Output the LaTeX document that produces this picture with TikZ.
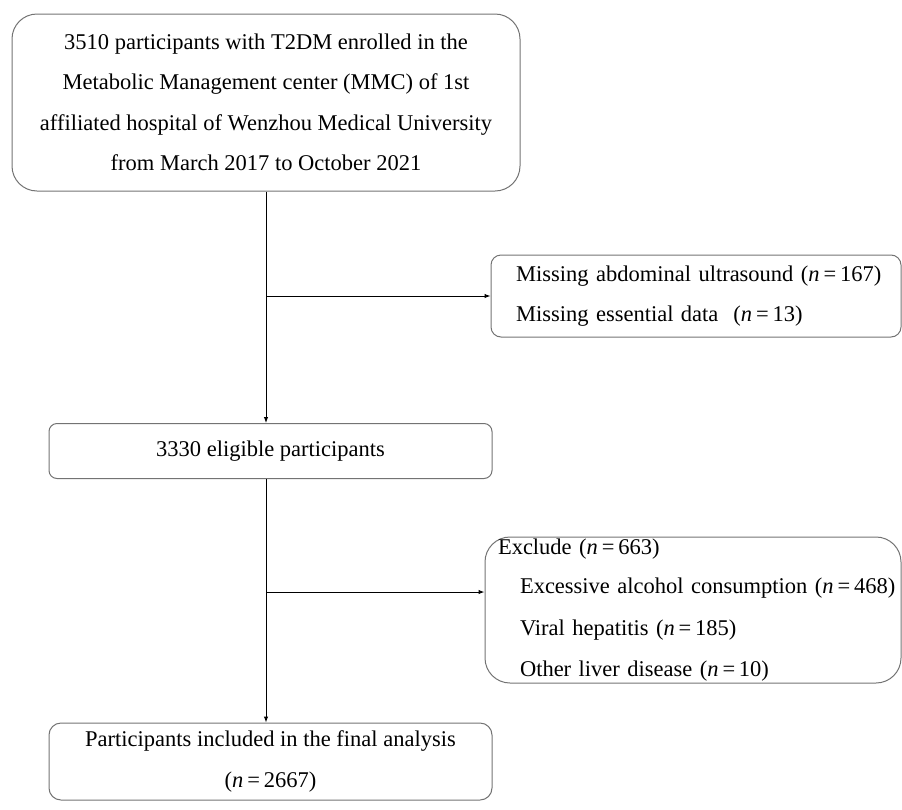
\documentclass[tikz,border=0pt]{standalone}
\usepackage{fontspec}
\setmainfont{Liberation Serif}
\usetikzlibrary{arrows.meta}

\tikzset{
	box/.style={draw=black!55, line width=1pt, align=center, inner sep=0pt,
		font=\fontsize{22.5}{40.5}\selectfont},
	flow/.style={-{Latex[length=6pt,width=4.5pt]}, line width=1pt}
}
\newcommand{\nn}{\textit{n}\hspace{0.17em}=\hspace{0.17em}}

\begin{document}
\begin{tikzpicture}[x=1pt, y=-1pt]
	\useasboundingbox (0,0) rectangle (902,809);
	\node[box, rounded corners=25pt, minimum width=508pt, minimum height=177pt] (start) at (266,102.5)
		{3510 participants with T2DM enrolled in the\\Metabolic Management center (MMC) of 1st\\affiliated hospital of Wenzhou Medical University\\from March 2017 to October 2021};
	\node[box, rounded corners=10pt, minimum width=410pt, minimum height=82pt, align=left, text width=360pt, inner xsep=25pt] (missing) at (696,296)
		{\mbox{Missing abdominal ultrasound (\nn167)}\\\mbox{Missing essential data~ (\nn13)}};
	\node[box, rounded corners=8pt, minimum width=443pt, minimum height=55pt] (eligible) at (270.5,451)
		{3330 eligible participants};
	\node[box, rounded corners=25pt, minimum width=416pt, minimum height=146pt, align=left, text width=390pt, inner xsep=13pt] (exclude) at (693,610)
		{\mbox{Exclude (\nn663)}\\[-1pt]\mbox{\hspace*{22pt}Excessive alcohol consumption (\nn468)}\\[1pt]\mbox{\hspace*{22pt}Viral hepatitis (\nn185)}\\[1pt]\mbox{\hspace*{22pt}Other liver disease (\nn10)}};
	\node[box, rounded corners=12pt, minimum width=443pt, minimum height=77pt] (final) at (270.5,761.5)
		{Participants included in the final analysis\\(\nn2667)};
	% branch points on the main line
	\coordinate (split1) at (start.south |- missing.west);
	\coordinate (split2) at (267,592);
	\draw [flow] (start.south) -- (start.south |- eligible.north);
	\draw [flow] (split1) -- (missing.west);
	\draw [flow] (start.south |- eligible.south) -- (start.south |- final.north);
	\draw [flow] (split2) -- (split2 -| exclude.west);
\end{tikzpicture}
\end{document}
